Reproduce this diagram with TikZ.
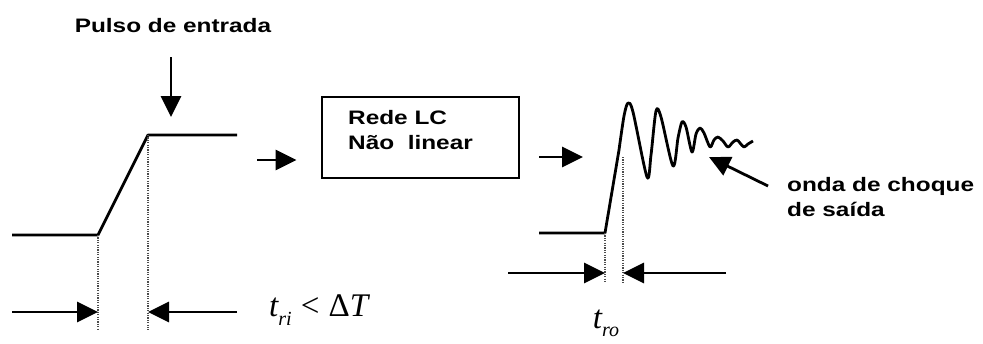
\documentclass[tikz,border=0pt]{standalone}
\usepackage{fontspec}
\setmainfont{Liberation Serif}
\newfontfamily\lblfont[FakeStretch=1.25]{Liberation Sans}
\usetikzlibrary{arrows.meta}

% time label: italic letter with italic subscript
\newcommand{\timesub}[2]{{\itshape #1}\raisebox{-0.25em}{\fontsize{20}{20}\selectfont\itshape #2}}

\begin{document}
\begin{tikzpicture}[
    % one unit = one pixel of the reference, y downwards
    x=1pt, y=-1pt,
    wave/.style    = {line width=2.8pt, line join=round},
    guide/.style   = {dash pattern=on 1.2pt off 1.2pt, line width=1.6pt, black!70},
    pointer/.style = {-{Triangle[length=21pt,width=20pt]}, line width=2.8pt},
    block/.style   = {draw, line width=2.8pt, minimum width=197pt, minimum height=81pt, inner sep=0pt},
    lab/.style     = {font=\lblfont\bfseries\fontsize{19.5}{25}\selectfont, align=left, inner sep=0pt},
    tlab/.style    = {font=\fontsize{33}{36}\selectfont, inner sep=0pt}
  ]
  \useasboundingbox (0,0) rectangle (983,343);

  % ===== Left: input pulse =====
  \coordinate (iA) at (12,235);
  \coordinate (iB) at (98,235);
  \coordinate (iC) at (148,135);
  \coordinate (iD) at (237,135);
  \draw[wave] (iA) -- (iB) -- (iC) -- (iD);

  \node[lab] (inlab) at (173,26) {Pulso de entrada};
  \coordinate (inTop) at (171,57);
  \coordinate (inTip) at (171,117);
  \draw[pointer] (inTop) -- (inTip);

  % rise time markers
  \coordinate (iBd) at (98,330);
  \coordinate (iCd) at (148,330);
  \draw[guide] (iB) -- (iBd);
  \draw[guide] (iC) -- (iCd);
  \coordinate (iL) at (12,312);
  \coordinate (iLt) at (98,312);
  \coordinate (iR) at (237,312);
  \coordinate (iRt) at (148,312);
  \draw[pointer] (iL) -- (iLt);
  \draw[pointer] (iR) -- (iRt);
  \node[tlab, anchor=west] (trin) at (269,310) {\timesub{t}{ri}\;<\;Δ{\itshape T}};

  % ===== Middle: network block =====
  \coordinate (netIn) at (257,160);
  \node[block] (net) at (420.5,137.5) {};
  \draw[pointer] (netIn) -- ([xshift=-24pt]net.west |- netIn);
  \node[lab, anchor=west] (netlab) at (348,130.5) {Rede LC\\Não~~linear};

  % ===== Right: output shock wave =====
  \coordinate (oIn) at (539,157);
  \coordinate (oInt) at (583,157);
  \draw[pointer] (oIn) -- (oInt);

  \coordinate (oA) at (539,233);
  \coordinate (oB) at (605,233);
  \coordinate (oK) at (619,150);
  \draw[wave] (oA) -- (oB) -- (oK);
  \draw[wave] plot[smooth, tension=0.5] coordinates {
      (oK) (624,116) (628,103) (633,112) (647,177) (651,155) (656,111) (661,117) (673,166)
      (678,138) (682,122) (686,127) (692,152) (696,134) (700,128) (704,133) (710,147)
      (714,140) (718,137) (723,141) (728,147) (733,142) (737,140) (740,143) (744,147)
      (748,144) (753,141)};

  % rise time markers
  \coordinate (oKt) at (623,157);
  \coordinate (oBd) at (605,283);
  \coordinate (oKd) at (623,283);
  \draw[guide] (oB) -- (oBd);
  \draw[guide] (oKt) -- (oKd);
  \coordinate (oL) at (508,273);
  \coordinate (oLt) at (605,273);
  \coordinate (oR) at (726,273);
  \coordinate (oRt) at (623,273);
  \draw[pointer] (oL) -- (oLt);
  \draw[pointer] (oR) -- (oRt);
  \node[tlab] (trout) at (606,323) {\timesub{t}{ro}};

  % output label
  \node[lab, anchor=west] (outlab) at (787,197) {onda de choque\\de saída};
  \coordinate (outFrom) at (768,186);
  \coordinate (outTip) at (709,157);
  \draw[pointer] (outFrom) -- (outTip);

\end{tikzpicture}
\end{document}
